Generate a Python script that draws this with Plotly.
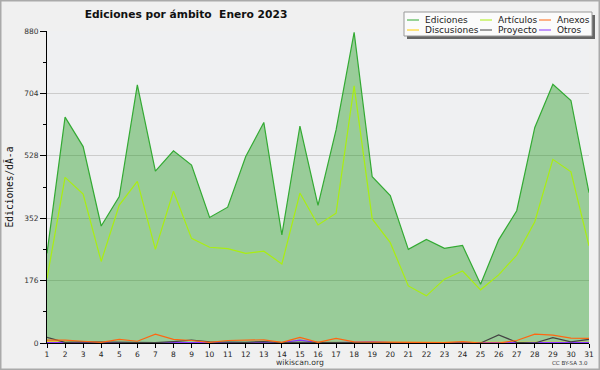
import plotly.graph_objects as go

days = list(range(1, 32))
ediciones = [253, 637, 554, 330, 413, 728, 485, 542, 502, 354, 383, 526, 622, 305, 612, 388,
             601, 876, 469, 416, 264, 292, 267, 275, 166, 291, 373, 608, 730, 684, 424]
articulos = [182, 467, 420, 230, 389, 456, 264, 428, 295, 270, 266, 253, 259, 223, 423, 333,
             366, 725, 350, 283, 161, 133, 180, 203, 150, 192, 248, 342, 518, 483, 274]
anexos = [8, 8, 5, 2, 10, 5, 25, 10, 7, 2, 7, 8, 9, 2, 16, 2, 13, 3, 3, 2, 2, 2, 1, 4, 0, 0,
          7, 25, 22, 14, 13]
discusiones = [3, 1, 1, 1, 1, 1, 1, 2, 3, 3, 2, 2, 3, 2, 1, 1, 1, 2, 3, 1, 1, 1, 1, 2, 1, 3,
               1, 1, 1, 1, 2]
proyecto = [16, 2, 3, 3, 1, 1, 1, 4, 8, 3, 2, 2, 4, 1, 2, 1, 2, 1, 1, 1, 2, 2, 1, 2, 0, 23,
            2, 0, 15, 3, 10]
otros = [1, 1, 1, 1, 1, 1, 1, 1, 1, 1, 1, 1, 1, 1, 8, 1, 1, 3, 3, 1, 1, 1, 1, 1, 0, 1, 1, 1,
         1, 1, 1]
y_ticks = [0, 176, 352, 528, 704, 880]

W, H = 600, 370
ML, MR, MT, MB = 47, 11, 31, 27
PW, PH = W - ML - MR, H - MT - MB

def px(x):
    return (x - ML) / PW

def py(y):
    return (H - MB - y) / PH

series = [
    ("Ediciones", ediciones, "#33aa33"),
    ("Artículos", articulos, "#aaee11"),
    ("Discusiones", discusiones, "#ffcc00"),
    ("Otros", otros, "#8833ff"),
    ("Proyecto", proyecto, "#444444"),
    ("Anexos", anexos, "#ff6611"),
]
colors = {n: c for n, _, c in series}

fig = go.Figure()
for name, vals, col in series:
    kw = {}
    if name == "Ediciones":
        kw = dict(fill="tozeroy", fillcolor="rgba(24,150,20,0.4)")
    fig.add_trace(go.Scatter(x=days, y=vals, mode="lines", name=name,
                             line=dict(color=col, width=1.2), showlegend=False, **kw))

# legend (manual, 3 columns x 2 rows)
legend_order = [["Ediciones", "Discusiones"], ["Artículos", "Proyecto"], ["Anexos", "Otros"]]
col_x = [407, 480, 539]
row_y = [20, 30]
shapes = [
    dict(type="rect", xref="paper", yref="paper", x0=px(0.75), x1=px(599.25), y0=py(369.25), y1=py(0.75),
         line=dict(color="#aaaaaa", width=1.5), layer="below"),
    dict(type="rect", xref="paper", yref="paper", x0=px(407), x1=px(595), y0=py(39), y1=py(15),
         fillcolor="#666666", line=dict(width=0), layer="above"),
    dict(type="rect", xref="paper", yref="paper", x0=px(404), x1=px(592), y0=py(36), y1=py(12),
         fillcolor="#fbfbfb", line=dict(color="#999999", width=1), layer="above"),
]
annotations = []
for ci, names in enumerate(legend_order):
    for ri, name in enumerate(names):
        x0 = col_x[ci]
        yy = row_y[ri]
        shapes.append(dict(type="line", xref="paper", yref="paper", x0=px(x0), x1=px(x0 + 12),
                           y0=py(yy), y1=py(yy), line=dict(color=colors[name], width=1), layer="above"))
        annotations.append(dict(text=name, xref="paper", yref="paper", x=px(x0 + 16), y=py(yy),
                                xanchor="left", yanchor="middle", showarrow=False,
                                font=dict(family="DejaVu Sans", size=9, color="#222222")))

annotations.append(dict(text="wikiscan.org", xref="paper", yref="paper", x=px(300), y=py(362),
                        xanchor="center", yanchor="middle", showarrow=False,
                        font=dict(family="DejaVu Sans", size=7.7, color="#333333")))
annotations.append(dict(text="CC BY-SA 3.0", xref="paper", yref="paper", x=px(590), y=py(363),
                        xanchor="right", yanchor="middle", showarrow=False,
                        font=dict(family="DejaVu Sans", size=5.5, color="#333333")))

fig.update_layout(
    width=W, height=H,
    margin=dict(l=ML, r=MR, t=MT, b=MB, pad=0, autoexpand=False),
    paper_bgcolor="#f0f0f0", plot_bgcolor="#eff0f2",
    title=dict(text="Ediciones por ámbito\u00a0 Enero 2023", xref="container", yref="container",
               x=186 / W, y=1 - 14 / H, xanchor="center", yanchor="middle",
               font=dict(family="DejaVu Sans", size=10.7, color="#111111", weight="bold")),
    shapes=shapes, annotations=annotations,
    xaxis=dict(range=[1, 31], tickvals=days, ticks="outside", ticklen=4, tickcolor="#000000",
               showline=True, linecolor="#000000", linewidth=1, showgrid=False, zeroline=False,
               automargin=False,
               tickfont=dict(family="DejaVu Sans", size=7.5, color="#222222"), fixedrange=True),
    yaxis=dict(range=[0, 880], tickvals=y_ticks, ticks="outside", ticklen=6, tickcolor="#000000",
               showline=True, linecolor="#000000", linewidth=1, showgrid=True, gridcolor="#cccccc",
               gridwidth=1, zeroline=False, automargin=False,
               minor=dict(dtick=88, ticks="outside", ticklen=3, tickcolor="#000000", showgrid=False),
               tickfont=dict(family="DejaVu Sans", size=7.5, color="#333333"),
               title=dict(text="Ediciones/dÃ-a", standoff=8,
                          font=dict(family="DejaVu Sans Mono", size=9.6, color="#111111")),
               fixedrange=True),
)

fig.write_html("out.html", config={"displayModeBar": False},
               post_script="document.body.style.margin='0';document.body.style.overflow='hidden';")
